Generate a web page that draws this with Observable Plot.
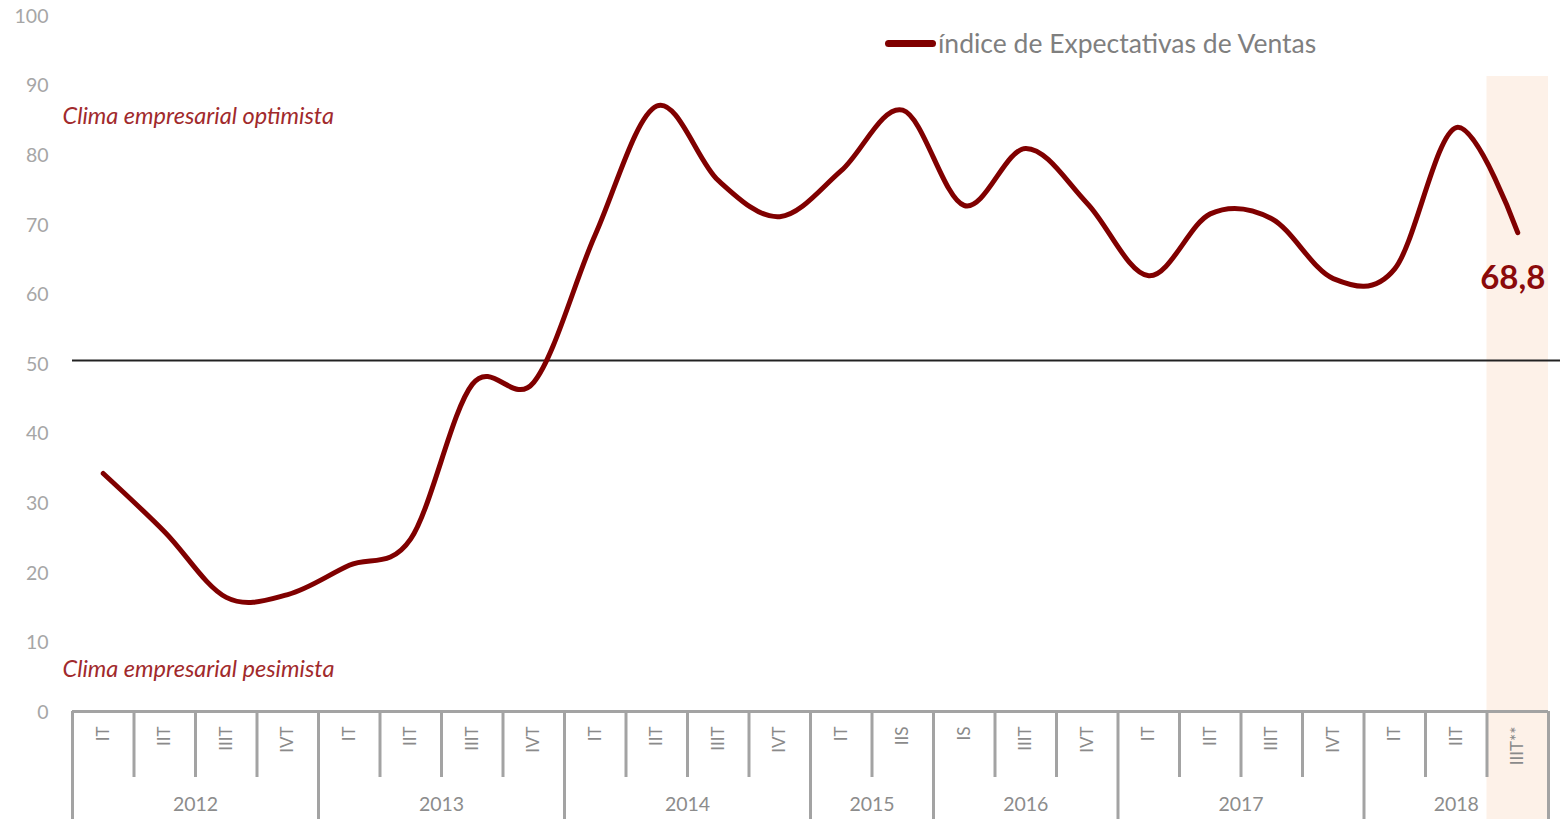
<!DOCTYPE html>
<html>
<head>
<meta charset="utf-8">
<script src="https://cdn.jsdelivr.net/npm/d3@7"></script>
<script src="https://cdn.jsdelivr.net/npm/@observablehq/plot@0.6"></script>
<style>
  html, body { margin: 0; padding: 0; background: #fff; }
  #wrap { position: relative; width: 1560px; height: 819px; font-family: Lato, "Open Sans", sans-serif; }
  #legend { position: absolute; left: 885px; top: 27px; display: flex; align-items: center; font-size: 26.5px; color: #7f7f7f; }
  #legend .sw { width: 51px; height: 7px; border-radius: 4px; background: #800000; margin-right: 2px; }
</style>
</head>
<body>
<div id="wrap">
  <div id="chart"></div>
  <div id="legend"><span class="sw"></span><span>índice de Expectativas de Ventas</span></div>
</div>
<script>
// ---- data ----
const quarters = ["IT","IIT","IIIT","IVT","IT","IIT","IIIT","IVT","IT","IIT","IIIT","IVT",
                  "IT","IIS","IS","IIIT","IVT","IT","IIT","IIIT","IVT","IT","IIT","IIIT**"];
const years = ["2012","2013","2014","2015","2016","2017","2018"];
const quartersPerYear = [4, 4, 4, 2, 3, 4, 3];
const values = [34.2, 25.8, 16.4, 16.8, 21.0, 24.8, 47.0, 47.3, 68.5, 87.0, 76.3, 71.1,
                77.7, 86.4, 72.7, 80.9, 73.0, 62.6, 71.5, 70.8, 62.2, 63.6, 83.9, 68.8];
const yTicks = [0, 10, 20, 30, 40, 50, 60, 70, 80, 90, 100];
const threshold = 50;
const annotations = [
  {y: 85.5, text: "Clima empresarial optimista"},
  {y: 6.0, text: "Clima empresarial pesimista"}
];
const seriesName = "índice de Expectativas de Ventas";

// ---- derived tables ----
const points = values.map((v, i) => ({i, x: i + 0.5, v, q: quarters[i]}));
const yearStarts = d3.cumsum([0, ...quartersPerYear]).slice(0, -1);
const yearGroups = years.map((y, k) => ({
  year: y, start: yearStarts[k], end: yearStarts[k] + quartersPerYear[k]
}));
const yearBounds = [0, ...yearGroups.map(g => g.end)];
const quarterBounds = d3.range(1, quarters.length).filter(b => !yearBounds.includes(b));
const highlight = points.filter(p => p.q.endsWith("**")).map(p => ({x1: p.i, x2: p.i + 1}));
const last = points[points.length - 1];

const gray = "#a3a3a3";
const chart = Plot.plot({
  width: 1560,
  height: 819,
  marginLeft: 72,
  marginRight: 12,
  marginTop: 15,
  marginBottom: 108,
  style: {fontFamily: "Lato, 'Open Sans', sans-serif", background: "white"},
  x: {domain: [0, quarters.length], axis: null},
  y: {domain: [0, 100]},
  marks: [
    Plot.rect(highlight, {x1: "x1", x2: "x2", fill: "#fdf1e8", insetTop: 61, insetBottom: -108}),
    Plot.ruleY([threshold], {stroke: "#222", strokeWidth: 2, insetRight: -12, dy: -3}),
    Plot.axisY(yTicks, {tickSize: 0, tickPadding: 24, fontSize: 19.5, fill: "#a6a6a6", label: null, dy: 1}),
    // category box
    Plot.ruleY([0], {stroke: gray, strokeWidth: 3}),
    Plot.ruleX(quarterBounds, {stroke: gray, strokeWidth: 3, insetTop: 696, insetBottom: -66}),
    Plot.ruleX(yearBounds, {stroke: gray, strokeWidth: 3, insetTop: 696, insetBottom: -110}),
    Plot.text(points, {x: "x", frameAnchor: "bottom", text: "q", dy: 15, rotate: -90,
      textAnchor: "end", lineAnchor: "middle", fontSize: 17, fill: "#8a8a8a"}),
    Plot.text(yearGroups, {x: g => (g.start + g.end) / 2, frameAnchor: "bottom", text: "year",
      dy: 93, lineAnchor: "middle", fontSize: 19.5, fill: "#8c8c8c"}),
    // annotations
    Plot.text(annotations, {y: "y", frameAnchor: "left", text: "text", textAnchor: "start",
      dx: -10, fontSize: 23.5, fontStyle: "italic", fill: "#a12a2c"}),
    // series
    Plot.line(points, {x: "x", y: "v", stroke: "#800000", strokeWidth: 5, curve: "cardinal",
      strokeLinecap: "round", strokeLinejoin: "round"}),
    Plot.text([last], {x: "x", y: "v", text: d => d3.format(".1f")(d.v).replace(".", ","),
      dy: 46, dx: -5, fontSize: 33, fontWeight: "bold", fill: "#8b0a0a", lineAnchor: "middle"})
  ]
});
document.getElementById("chart").appendChild(chart);
</script>
</body>
</html>
